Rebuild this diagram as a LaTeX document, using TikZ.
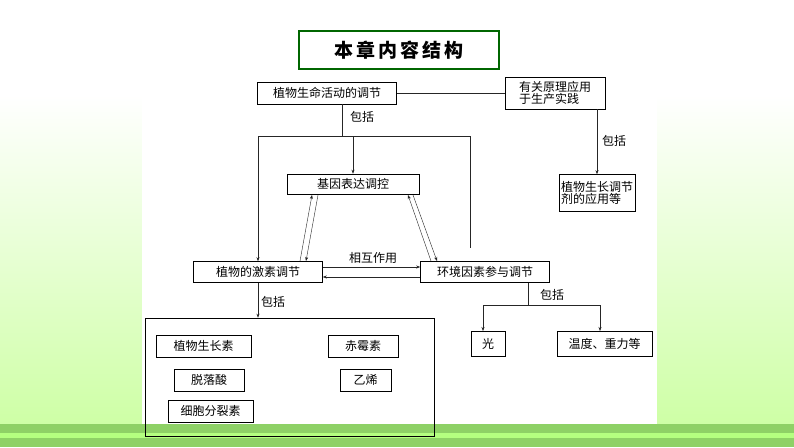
\documentclass[tikz,border=0pt]{standalone}
\usepackage{fontspec}
\setmainfont{Noto Sans CJK SC}
\usetikzlibrary{arrows.meta}
\tikzset{
  box/.style={draw, semithick, fill=white, inner sep=2pt, font=\fontsize{12}{13}\selectfont},
  lbl/.style={font=\fontsize{12}{13}\selectfont},
  link/.style={draw=black!85, -{Stealth[length=4pt,width=3pt]}}
}
\begin{document}
\begin{tikzpicture}[x=1pt,y=-1pt]
\useasboundingbox (0,0) rectangle (794,447);
% background
\shade[top color=white, bottom color=green!55!yellow!35] (0,95) rectangle (794,424);
\fill[white] (142,95) rectangle (657,436);
\fill[green!50!lime!70!black!60] (0,424) rectangle (794,447);
\fill[green!45!lime!50] (0,433) rectangle (794,438);
% title
\node[draw=green!40!black, line width=2.5pt, fill=white, minimum width=200, minimum height=38,
      font=\fontsize{19}{22}\selectfont\bfseries] (title) at (399,50) {本\,章\,内\,容\,结\,构};
% nodes
\node[box, minimum width=139, minimum height=22] (reg) at (327,93) {植物生命活动的调节};
\node[box, minimum width=100, minimum height=32, align=left, font=\fontsize{12}{12}\selectfont] (app) at (555,93) {有关原理应用\\于生产实践};
\node[box, minimum width=71, minimum height=37, align=left, font=\fontsize{12}{12}\selectfont] (use) at (597,193) {植物生长调节\\剂的应用等};
\node[box, minimum width=132, minimum height=20] (gene) at (353,184) {基因表达调控};
\node[box, minimum width=129, minimum height=21] (horm) at (258,272) {植物的激素调节};
\node[box, minimum width=129, minimum height=21] (env) at (485,272) {环境因素参与调节};
\node[draw, semithick, minimum width=289, minimum height=118] (group) at (289.5,377) {};
\node[box, minimum width=95, minimum height=22] (iaa) at (203.5,346) {植物生长素};
\node[box, minimum width=70, minimum height=22] (ga) at (363,346) {赤霉素};
\node[box, minimum width=70, minimum height=22] (aba) at (209,380) {脱落酸};
\node[box, minimum width=51, minimum height=22] (eth) at (365.5,380) {乙烯};
\node[box, minimum width=85, minimum height=22] (ctk) at (210.5,411) {细胞分裂素};
\node[box, minimum width=34, minimum height=25] (light) at (488,343.5) {光};
\node[box, minimum width=95, minimum height=25] (temp) at (604.5,343.5) {温度、重力等};
% labels
\node[lbl] (inc1) at (362,117) {包括};
\node[lbl] (inc2) at (614,141) {包括};
\node[lbl] (inc3) at (273,302) {包括};
\node[lbl] (inc4) at (552,295) {包括};
\node[lbl] (mutual) at (373,258) {相互作用};
% connectors
\draw[black!85] (reg.east) -- (app.west);
\draw[link] (app.south -| use.north) -- (use.north);
\draw[black!85] (342,104) -- (342,136);
\draw[black!85] (258,136) -- (470,136) -- (470,248);
\draw[link] (258,136) -- (horm.north);
\draw[link] (gene.north |- 0,136) -- (gene.north);
\draw[link] (300,261) -- (312,195);
\draw[link] (318,195) -- (306,261);
\draw[link] (431,261) -- (408,195);
\draw[link] (413,195) -- (437,261);
\draw[link] (horm.east |- 0,267) -- (env.west |- 0,267);
\draw[link] (env.west |- 0,277) -- (horm.east |- 0,277);
\draw[link] (horm.south) -- (group.north -| horm.south);
\draw[black!85] (528,283) -- (528,305);
\draw[black!85] (483,305) -- (600,305);
\draw[link] (483,305) -- (483,331);
\draw[link] (600,305) -- (600,331);
\end{tikzpicture}
\end{document}
